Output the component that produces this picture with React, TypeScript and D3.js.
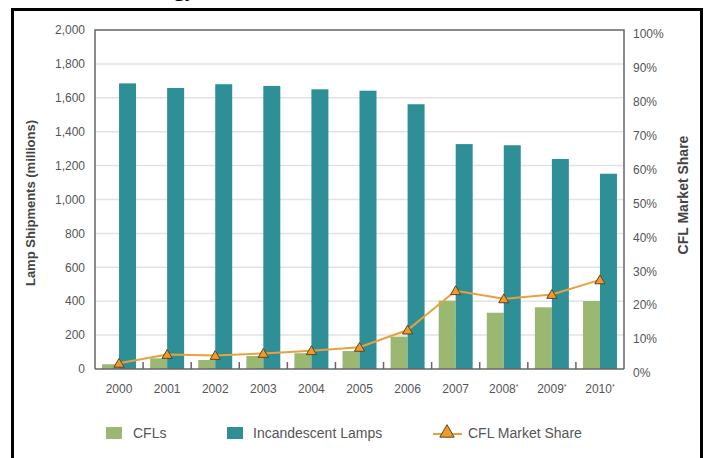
import * as d3 from 'd3'

const years = ['2000', '2001', '2002', '2003', '2004', '2005', '2006', '2007', '2008', '2009', '2010']
const projected = ['2008', '2009', '2010']
const cfls = [28, 63, 53, 77, 93, 106, 191, 403, 332, 364, 401]
const incandescent = [1685, 1658, 1680, 1670, 1650, 1642, 1562, 1327, 1320, 1239, 1152]
const marketShare = [1.7, 4.3, 4.0, 4.6, 5.4, 6.4, 11.5, 23.1, 20.7, 22.0, 26.3]
const leftTicks = [0, 200, 400, 600, 800, 1000, 1200, 1400, 1600, 1800, 2000]
const rightTicks = [0, 10, 20, 30, 40, 50, 60, 70, 80, 90, 100]

const W = 707
const H = 458
const margin = { top: 30, right: 83, bottom: 89, left: 95 }
const plotW = W - margin.left - margin.right
const plotH = H - margin.top - margin.bottom

const green = '#9bb872'
const teal = '#2e9096'
const orange = '#e9a13f'
const axisGray = '#666'
const textGray = '#555'
const font = "'Liberation Sans', Arial, sans-serif"

export default function App() {
  const x = d3.scaleBand().domain(years).range([0, plotW]).padding(0)
  const sub = d3
    .scaleBand()
    .domain(['cfl', 'inc'])
    .range([0, x.bandwidth()])
    .paddingInner(0)
    .paddingOuter(0.415)
  const y = d3.scaleLinear().domain([0, 2000]).range([plotH, 0])
  const y2 = d3.scaleLinear().domain([0, 100]).range([plotH, 0])

  const cx = (yr: string) => (x(yr) ?? 0) + x.bandwidth() / 2
  const line = d3
    .line<number>()
    .x((_, i) => cx(years[i]))
    .y((d) => y2(d))

  const tri = d3.symbol().type(d3.symbolTriangle).size(45)

  return (
    <svg width={W} height={H} style={{ position: 'absolute', left: 0, top: 0, background: '#fff' }}>
      {/* clipped title fragment above the frame */}
      <text x={174} y={-4} fontFamily="'Liberation Serif', serif" fontWeight="bold" fontSize={22} fill="#000">
        gy
      </text>
      <rect x={12.5} y={9.5} width={689} height={H + 20} fill="none" stroke="#000" strokeWidth={3} />

      <g transform={`translate(${margin.left},${margin.top})`}>
        {leftTicks.slice(1, -1).map((t) => (
          <line key={t} x1={0} x2={plotW} y1={y(t)} y2={y(t)} stroke="#e2e2e2" strokeWidth={1.5} />
        ))}

        {years.map((yr, i) => (
          <g key={yr}>
            <rect
              x={(x(yr) ?? 0) + (sub('cfl') ?? 0)}
              y={y(cfls[i])}
              width={sub.bandwidth()}
              height={plotH - y(cfls[i])}
              fill={green}
            />
            <rect
              x={(x(yr) ?? 0) + (sub('inc') ?? 0)}
              y={y(incandescent[i])}
              width={sub.bandwidth()}
              height={plotH - y(incandescent[i])}
              fill={teal}
            />
          </g>
        ))}

        {/* frame */}
        <path d={`M0,${plotH}V0H${plotW}V${plotH}`} fill="none" stroke={axisGray} strokeWidth={1.5} />
        <line x1={0} x2={plotW} y1={plotH} y2={plotH} stroke={axisGray} strokeWidth={1.5} />
        {years.slice(1).map((yr) => (
          <line key={yr} x1={x(yr)} x2={x(yr)} y1={plotH} y2={plotH - 7} stroke={axisGray} strokeWidth={1.5} />
        ))}

        <path d={line(marketShare) ?? ''} fill="none" stroke={orange} strokeWidth={2} />
        {marketShare.map((v, i) => (
          <path
            key={i}
            d={tri() ?? ''}
            transform={`translate(${cx(years[i])},${y2(v) + 1})`}
            fill="#f09a2a"
            stroke="#5b4526"
            strokeWidth={1}
          />
        ))}

        {leftTicks.map((t) => (
          <text
            key={t}
            x={-10}
            y={y(t)}
            dy="0.35em"
            textAnchor="end"
            fontFamily={font}
            fontSize={12}
            fill={textGray}
          >
            {d3.format(',')(t)}
          </text>
        ))}
        {rightTicks.map((t) => (
          <text
            key={t}
            x={plotW + 9}
            y={y2(t) + 4}
            dy="0.35em"
            fontFamily={font}
            fontSize={12}
            fill={textGray}
          >
            {t}%
          </text>
        ))}
        {years.map((yr) => (
          <text
            key={yr}
            x={cx(yr)}
            y={plotH + 20}
            dy="0.35em"
            textAnchor="middle"
            fontFamily={font}
            fontSize={12}
            fill={textGray}
          >
            {yr}
            {projected.includes(yr) && (
              <tspan fontSize={7} dy="-0.6em">
                *
              </tspan>
            )}
          </text>
        ))}
      </g>

      <text
        transform="translate(35,203) rotate(-90)"
        textAnchor="middle"
        fontFamily={font}
        fontWeight="bold"
        fontSize={13}
        fill="#444"
      >
        Lamp Shipments (millions)
      </text>
      <text
        transform="translate(688,195) rotate(-90)"
        textAnchor="middle"
        fontFamily={font}
        fontWeight="bold"
        fontSize={14}
        fill="#444"
      >
        CFL Market Share
      </text>

      <g fontFamily={font} fontSize={14} fill={textGray}>
        <rect x={106} y={427} width={16} height={12} fill={green} />
        <text x={133} y={433} dy="0.35em">CFLs</text>
        <rect x={227} y={427} width={16} height={12} fill={teal} />
        <text x={253} y={433} dy="0.35em">Incandescent Lamps</text>
        <line x1={433} x2={462} y1={434} y2={434} stroke={orange} strokeWidth={2} />
        <path d={d3.symbol().type(d3.symbolTriangle).size(90)() ?? ''} transform="translate(447,433)" fill="#f09a2a" stroke="#5b4526" />
        <text x={468} y={433} dy="0.35em">CFL Market Share</text>
      </g>
    </svg>
  )
}
